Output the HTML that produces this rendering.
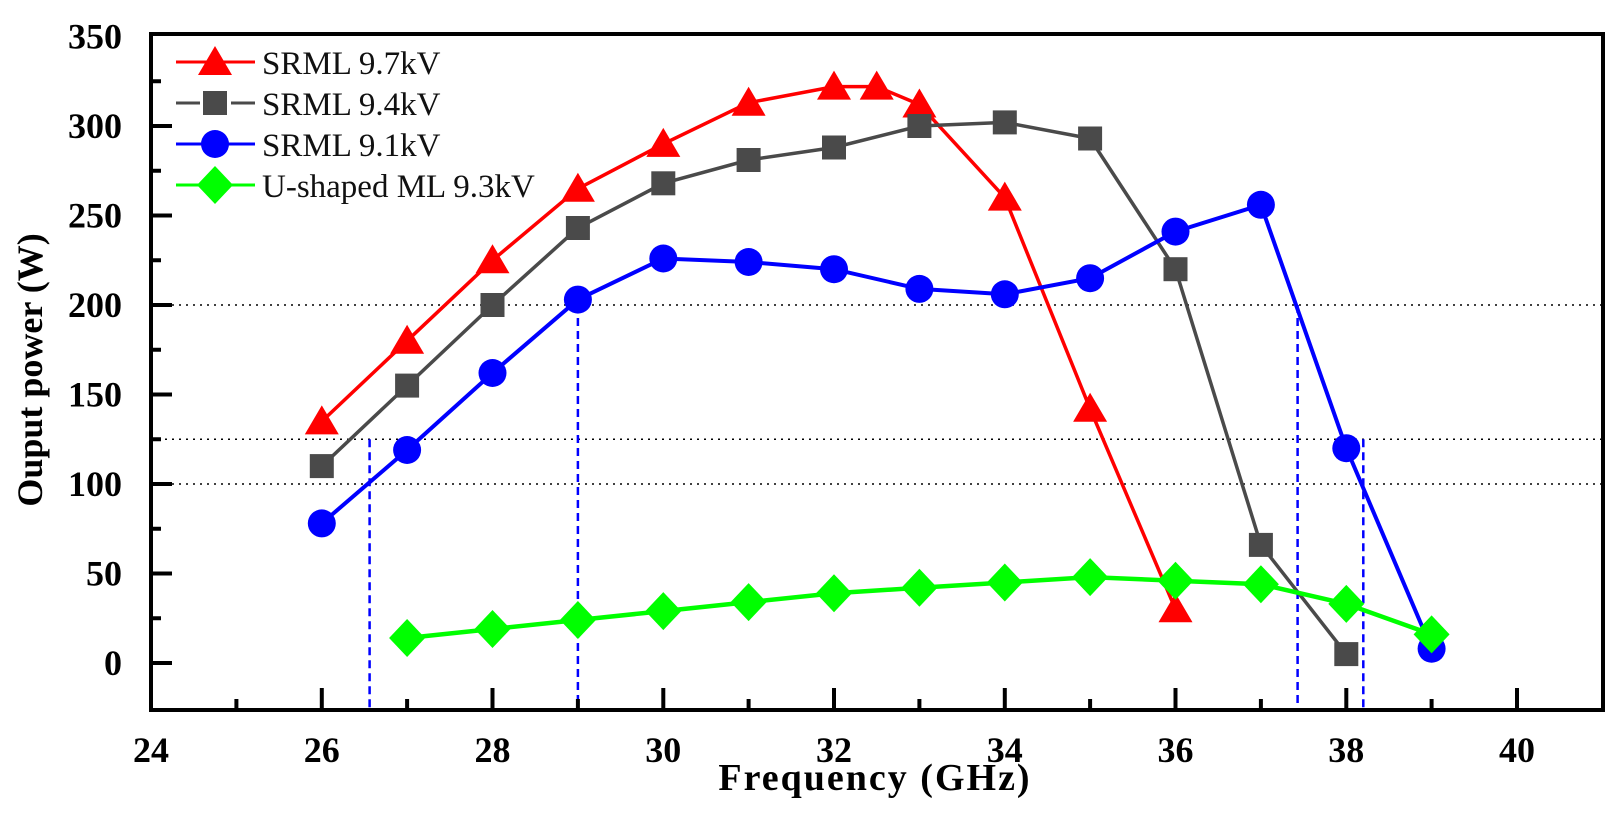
<!DOCTYPE html>
<html><head><meta charset="utf-8"><style>body{margin:0;background:#fff}svg{display:block}text{font-family:"Liberation Serif",serif}</style></head><body>
<svg xmlns="http://www.w3.org/2000/svg" xmlns:xlink="http://www.w3.org/1999/xlink" width="1622" height="816" viewBox="0 0 1622 816">
<defs>
<polygon id="t" points="0,-16 -17,13 17,13" fill="#f00"/>
<rect id="s" x="-12" y="-12" width="24" height="24" fill="#4a4a4a"/>
<circle id="c" cx="0" cy="0" r="14" fill="#00f"/>
<polygon id="d" points="0,-19 18,0 0,19 -18,0" fill="#0f0"/>
</defs>
<g stroke="#000" stroke-width="1.5" stroke-dasharray="2,5">
<line x1="151" x2="1603" y1="305" y2="305"/>
<line x1="151" x2="1603" y1="439.25" y2="439.25"/>
<line x1="151" x2="1603" y1="484" y2="484"/>
</g>
<g stroke="#00f" stroke-width="2.5" stroke-dasharray="8,5">
<line x1="369.6" x2="369.6" y1="439.25" y2="710"/>
<line x1="577.9" x2="577.9" y1="305" y2="710"/>
<line x1="1297.6" x2="1297.6" y1="305" y2="710"/>
<line x1="1363.3" x2="1363.3" y1="439.25" y2="710"/>
</g>
<polyline fill="none" stroke="#f00" stroke-width="3.5" points="321.8,421.4 407.1,340.8 492.5,260.3 577.9,188.7 663.3,143.9 748.6,102.7 834,86.6 876.7,86.6 919.4,104.5 1004.8,197.6 1090.1,408.8 1175.5,609.3"/>
<g>
<use xlink:href="#t" x="321.8" y="421.4"/><use xlink:href="#t" x="407.1" y="340.8"/><use xlink:href="#t" x="492.5" y="260.3"/><use xlink:href="#t" x="577.9" y="188.7"/><use xlink:href="#t" x="663.3" y="143.9"/><use xlink:href="#t" x="748.6" y="102.7"/><use xlink:href="#t" x="834" y="86.6"/><use xlink:href="#t" x="876.7" y="86.6"/><use xlink:href="#t" x="919.4" y="104.5"/><use xlink:href="#t" x="1004.8" y="197.6"/><use xlink:href="#t" x="1090.1" y="408.8"/><use xlink:href="#t" x="1175.5" y="609.3"/>
</g>
<polyline fill="none" stroke="#4a4a4a" stroke-width="3.5" points="321.8,466.1 407.1,385.6 492.5,305 577.9,228 663.3,183.3 748.6,160 834,147.5 919.4,126 1004.8,122.4 1090.1,138.5 1175.5,269.2 1260.9,544.9 1346.3,654.1"/>
<g>
<use xlink:href="#s" x="321.8" y="466.1"/><use xlink:href="#s" x="407.1" y="385.6"/><use xlink:href="#s" x="492.5" y="305"/><use xlink:href="#s" x="577.9" y="228"/><use xlink:href="#s" x="663.3" y="183.3"/><use xlink:href="#s" x="748.6" y="160"/><use xlink:href="#s" x="834" y="147.5"/><use xlink:href="#s" x="919.4" y="126"/><use xlink:href="#s" x="1004.8" y="122.4"/><use xlink:href="#s" x="1090.1" y="138.5"/><use xlink:href="#s" x="1175.5" y="269.2"/><use xlink:href="#s" x="1260.9" y="544.9"/><use xlink:href="#s" x="1346.3" y="654.1"/>
</g>
<polyline fill="none" stroke="#00f" stroke-width="4" points="321.8,523.4 407.1,450 492.5,373 577.9,299.6 663.3,258.5 748.6,262 834,269.2 919.4,288.9 1004.8,294.3 1090.1,278.2 1175.5,231.6 1260.9,204.8 1346.3,448.2 1431.6,648.7"/>
<g>
<use xlink:href="#c" x="321.8" y="523.4"/><use xlink:href="#c" x="407.1" y="450"/><use xlink:href="#c" x="492.5" y="373"/><use xlink:href="#c" x="577.9" y="299.6"/><use xlink:href="#c" x="663.3" y="258.5"/><use xlink:href="#c" x="748.6" y="262"/><use xlink:href="#c" x="834" y="269.2"/><use xlink:href="#c" x="919.4" y="288.9"/><use xlink:href="#c" x="1004.8" y="294.3"/><use xlink:href="#c" x="1090.1" y="278.2"/><use xlink:href="#c" x="1175.5" y="231.6"/><use xlink:href="#c" x="1260.9" y="204.8"/><use xlink:href="#c" x="1346.3" y="448.2"/><use xlink:href="#c" x="1431.6" y="648.7"/>
</g>
<polyline fill="none" stroke="#0f0" stroke-width="4.5" points="407.1,638 492.5,629 577.9,620 663.3,611.1 748.6,602.1 834,593.2 919.4,587.8 1004.8,582.5 1090.1,577.1 1175.5,580.7 1260.9,584.2 1346.3,603.9 1431.6,634.4"/>
<g>
<use xlink:href="#d" x="407.1" y="638"/><use xlink:href="#d" x="492.5" y="629"/><use xlink:href="#d" x="577.9" y="620"/><use xlink:href="#d" x="663.3" y="611.1"/><use xlink:href="#d" x="748.6" y="602.1"/><use xlink:href="#d" x="834" y="593.2"/><use xlink:href="#d" x="919.4" y="587.8"/><use xlink:href="#d" x="1004.8" y="582.5"/><use xlink:href="#d" x="1090.1" y="577.1"/><use xlink:href="#d" x="1175.5" y="580.7"/><use xlink:href="#d" x="1260.9" y="584.2"/><use xlink:href="#d" x="1346.3" y="603.9"/><use xlink:href="#d" x="1431.6" y="634.4"/>
</g>
<rect x="151" y="34" width="1452" height="676" fill="none" stroke="#000" stroke-width="4"/>
<g stroke="#000" stroke-width="4">
<line x1="151" x2="151" y1="710" y2="688"/><line x1="236.4" x2="236.4" y1="710" y2="699"/><line x1="321.8" x2="321.8" y1="710" y2="688"/><line x1="407.1" x2="407.1" y1="710" y2="699"/><line x1="492.5" x2="492.5" y1="710" y2="688"/><line x1="577.9" x2="577.9" y1="710" y2="699"/><line x1="663.3" x2="663.3" y1="710" y2="688"/><line x1="748.6" x2="748.6" y1="710" y2="699"/><line x1="834" x2="834" y1="710" y2="688"/><line x1="919.4" x2="919.4" y1="710" y2="699"/><line x1="1004.8" x2="1004.8" y1="710" y2="688"/><line x1="1090.1" x2="1090.1" y1="710" y2="699"/><line x1="1175.5" x2="1175.5" y1="710" y2="688"/><line x1="1260.9" x2="1260.9" y1="710" y2="699"/><line x1="1346.3" x2="1346.3" y1="710" y2="688"/><line x1="1431.6" x2="1431.6" y1="710" y2="699"/><line x1="1517" x2="1517" y1="710" y2="688"/>
<line x1="151" x2="172" y1="663" y2="663"/><line x1="151" x2="161" y1="618.25" y2="618.25"/><line x1="151" x2="172" y1="573.5" y2="573.5"/><line x1="151" x2="161" y1="528.75" y2="528.75"/><line x1="151" x2="172" y1="484" y2="484"/><line x1="151" x2="161" y1="439.25" y2="439.25"/><line x1="151" x2="172" y1="394.5" y2="394.5"/><line x1="151" x2="161" y1="349.75" y2="349.75"/><line x1="151" x2="172" y1="305" y2="305"/><line x1="151" x2="161" y1="260.25" y2="260.25"/><line x1="151" x2="172" y1="215.5" y2="215.5"/><line x1="151" x2="161" y1="170.75" y2="170.75"/><line x1="151" x2="172" y1="126" y2="126"/><line x1="151" x2="161" y1="81.25" y2="81.25"/>
</g>
<g style="font-family:'Liberation Serif',serif;font-weight:bold;font-size:36px" text-anchor="middle">
<text x="151" y="762">24</text><text x="321.8" y="762">26</text><text x="492.5" y="762">28</text><text x="663.3" y="762">30</text><text x="834" y="762">32</text><text x="1004.8" y="762">34</text><text x="1175.5" y="762">36</text><text x="1346.3" y="762">38</text><text x="1517" y="762">40</text>
</g>
<g style="font-family:'Liberation Serif',serif;font-weight:bold;font-size:36px" text-anchor="end">
<text x="122" y="675">0</text><text x="122" y="585.5">50</text><text x="122" y="496">100</text><text x="122" y="406.5">150</text><text x="122" y="317">200</text><text x="122" y="227.5">250</text><text x="122" y="138">300</text><text x="122" y="48.5">350</text>
</g>
<text x="875" y="790" text-anchor="middle" style="font-family:'Liberation Serif',serif;font-weight:bold;font-size:38px" letter-spacing="2">Frequency (GHz)</text>
<text transform="translate(42,370) rotate(-90)" text-anchor="middle" style="font-family:'Liberation Serif',serif;font-weight:bold;font-size:36px">Ouput power (W)</text>
<g style="font-family:'Liberation Serif',serif;font-size:33px" fill="#111">
<line x1="176" x2="255" y1="62" y2="62" stroke="#f00" stroke-width="3"/><use xlink:href="#t" x="215" y="62"/><text x="262" y="74">SRML 9.7kV</text>
<line x1="176" x2="255" y1="103" y2="103" stroke="#4a4a4a" stroke-width="3" stroke-dasharray="24,31"/><use xlink:href="#s" x="215" y="103"/><text x="262" y="115">SRML 9.4kV</text>
<line x1="176" x2="255" y1="144" y2="144" stroke="#00f" stroke-width="3"/><use xlink:href="#c" x="215" y="144"/><text x="262" y="156">SRML 9.1kV</text>
<line x1="176" x2="255" y1="185" y2="185" stroke="#0f0" stroke-width="3"/><use xlink:href="#d" x="215" y="185"/><text x="262" y="197">U-shaped ML 9.3kV</text>
</g>
</svg>
</body></html>
